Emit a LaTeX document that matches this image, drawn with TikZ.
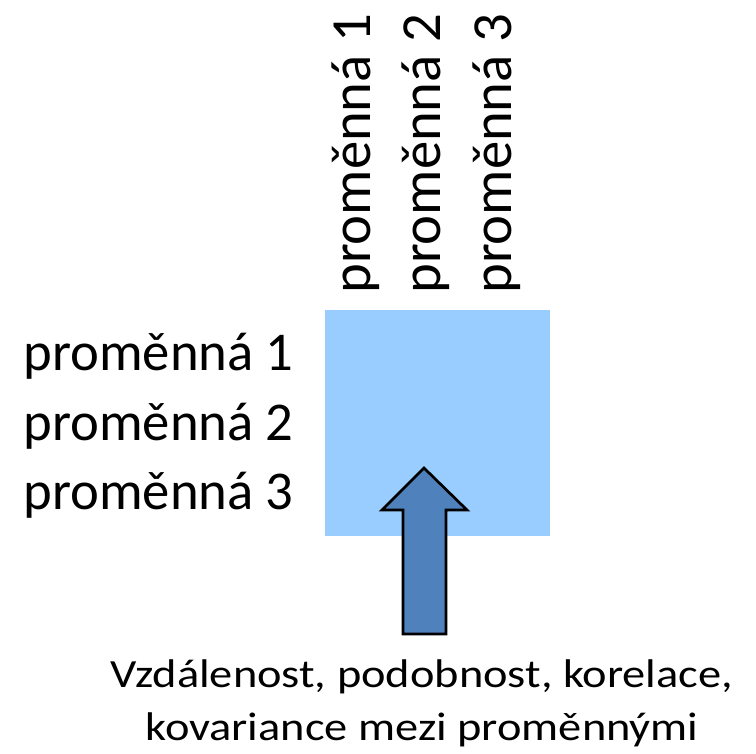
\documentclass[tikz,border=0pt]{standalone}
\usepackage{fontspec}
\setmainfont{Carlito}
\usepackage{tikz}
\definecolor{matblue}{HTML}{99CCFF}
\definecolor{arrowblue}{HTML}{4F81BD}
\tikzset{varlabel/.style={inner sep=0pt, font=\fontsize{41}{48}\selectfont},
         collabel/.style={inner sep=0pt, font=\fontsize{42.5}{48}\selectfont},
         notelabel/.style={inner sep=0pt, align=center, xscale=1.16, font=\fontsize{30}{39.75}\selectfont}}

\begin{document}
\begin{tikzpicture}[x=0.75pt, y=-0.75pt]

\useasboundingbox (0,0) rectangle (756,753);

% matrix
\fill [matblue] (325,310) rectangle (550,536);

% row labels
\node [style = varlabel, anchor=base east] (r1) at (294,370) {proměnná 1};
\node [style = varlabel, anchor=base east] (r2) at (294,440) {proměnná 2};
\node [style = varlabel, anchor=base east] (r3) at (294,509) {proměnná 3};

% column labels
\node [style = collabel, anchor=base west, rotate=90] (c1) at (370,294) {proměnná 1};
\node [style = collabel, anchor=base west, rotate=90] (c2) at (440,294) {proměnná 2};
\node [style = collabel, anchor=base west, rotate=90] (c3) at (511,294) {proměnná 3};

% note
\node [style = notelabel, anchor=base] (note) at (422,740) {Vzdálenost, podobnost, korelace,\\ kovariance mezi proměnnými};

% arrow
\draw [fill=arrowblue, line width=2pt, line join=miter]
  (403,634) -- (403,510) -- (382,510) -- (424,468) -- (467,510) -- (446,510) -- (446,634) -- cycle;

\end{tikzpicture}
\end{document}
